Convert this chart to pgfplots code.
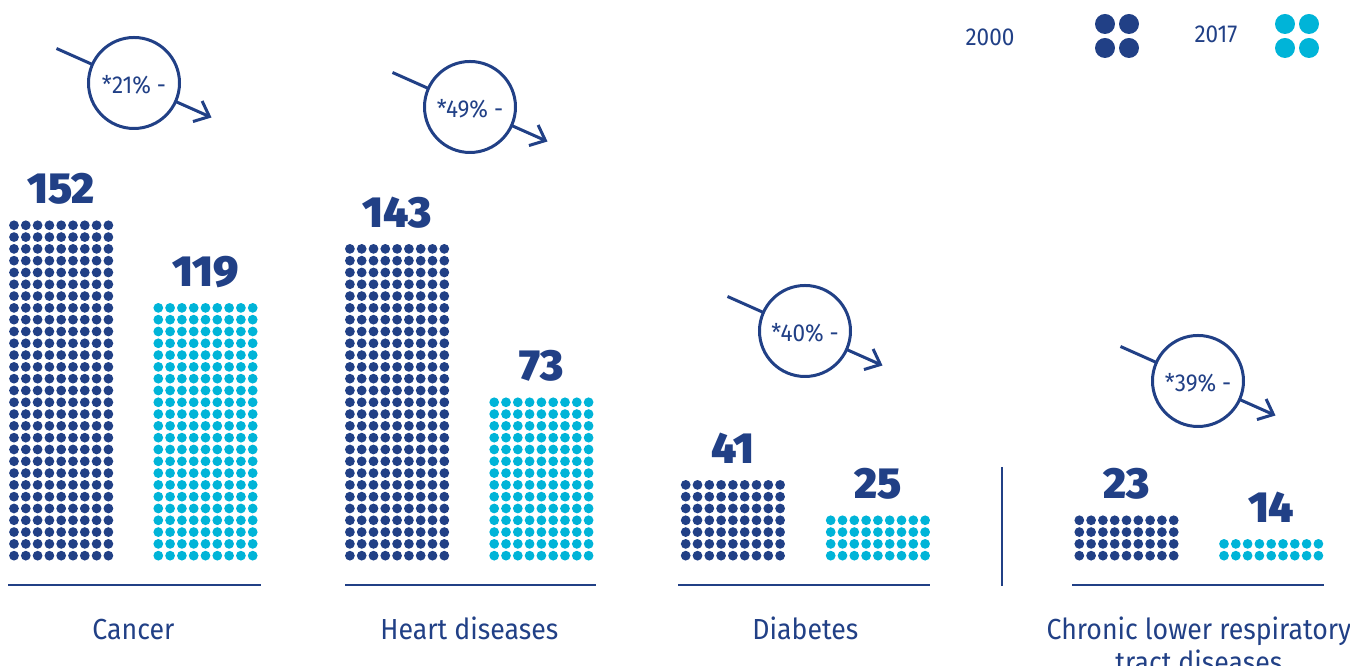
\documentclass[border=0pt]{standalone}
\usepackage{pgfplots}
\pgfplotsset{compat=1.18}
\usepackage{fontspec}
\setmainfont{Fira Sans}[FakeStretch=0.92]
\newfontfamily\heavy{Fira Sans Black}
\usetikzlibrary{arrows.meta}
\definecolor{navy}{RGB}{33,64,134}
\definecolor{cyanb}{RGB}{0,180,216}

% a bar drawn as a grid of dots (9 columns, rows of 4.72pt) filling the bar
\newcommand\dotgrid[1]{%
  \pgfpointanchor{path picture bounding box}{south west}\pgfgetlastxy{\swx}{\swy}%
  \pgfpointanchor{path picture bounding box}{north east}\pgfgetlastxy{\nex}{\ney}%
  \ifdim\nex>\swx\relax
  \ifdim\ney>\swy\relax
  \ifdim\dimexpr\nex-\swx\relax>42pt\relax
  \ifdim\dimexpr\nex-\swx\relax<43pt\relax
  \pgfmathtruncatemacro\nr{floor((\ney-\swy)/4.72+0.001)}%
  \pgfmathsetmacro\ddx{(\nex-\swx)/9}%
  \pgfmathsetmacro\xo{\swx}%
  \pgfmathsetmacro\yo{\swy}%
  \ifnum\nr>0
  \pgfsetfillcolor{#1}%
  \foreach \cc in {0,...,8}{\foreach \rr in {1,...,\nr}{%
    \pgfmathsetmacro\ppx{\xo+\ddx*(\cc+0.5)}%
    \pgfmathsetmacro\ppy{\yo+4.72*(\rr-0.5)}%
    \pgfpathcircle{\pgfpoint{\ppx pt}{\ppy pt}}{1.95pt}%
    \pgfusepath{fill}%
  }}%
  \fi
  \fi\fi\fi\fi
}
\tikzset{dotbar/.style={draw=none, fill=none, path picture={\dotgrid{#1}}}}

\newcommand\ann[3]{%
  \draw[navy, line width=1.2pt, -{Straight Barb[length=5.2pt,width=9pt]}] (#1-77.5,#2-34.5) -- (#1+77.5,#2+34.5);
  \draw[navy, line width=1.2pt, fill=white] (#1,#2) circle[radius=18.2pt];
  \node[text=navy, font=\fontsize{9.8}{12}\selectfont, inner sep=0pt] at (#1,#2+2) {#3};
}

\begin{document}
\begin{tikzpicture}
\begin{axis}[
  at={(0,0)}, anchor=south west,
  x=0.4pt, y=0.907692pt, scale only axis,
  xmin=0, xmax=1350, ymin=-46.01, ymax=247.51,
  axis line style={draw=none}, tick style={draw=none},
  ytick=\empty,
  xtick={133.4,469.3,805.4,1198.9},
  xticklabels={Cancer,Heart diseases,Diabetes,{\begin{tabular}[t]{@{}c@{}}Chronic lower respiratory\\tract diseases\end{tabular}}},
  xticklabel style={font=\fontsize{11.6}{12.8}\selectfont, text=navy, anchor=base, yshift=10.4pt},
  clip=false,
]
% 2000
\addplot[ybar, bar shift=0pt, bar width=42.48pt, dotbar=navy] coordinates {(61.2,152)};
\addplot[ybar, bar shift=0pt, bar width=42.48pt, dotbar=navy] coordinates {(397.1,143)};
\addplot[ybar, bar shift=0pt, bar width=42.48pt, dotbar=navy] coordinates {(732.9,41)};
\addplot[ybar, bar shift=0pt, bar width=42.48pt, dotbar=navy] coordinates {(1126.5,23)};
% 2017
\addplot[ybar, bar shift=0pt, bar width=42.48pt, dotbar=cyanb] coordinates {(205.5,119)};
\addplot[ybar, bar shift=0pt, bar width=42.48pt, dotbar=cyanb] coordinates {(541.4,73)};
\addplot[ybar, bar shift=0pt, bar width=42.48pt, dotbar=cyanb] coordinates {(877.9,25)};
\addplot[ybar, bar shift=0pt, bar width=42.48pt, dotbar=cyanb] coordinates {(1271.2,14)};
% value labels above the dot grids
\addplot[draw=none, mark=none,
  visualization depends on={rawy \as \rawy},
  nodes near coords={\pgfmathtruncatemacro\vv{round(\rawy)}\pgfmathtruncatemacro\nrw{floor(\rawy/5.2)}\pgfmathsetmacro\sh{(\nrw*11.8+15.5-\rawy*2.26923)*0.4}\raisebox{\sh pt}{\heavy\vv}},
  every node near coord/.append style={anchor=base, inner sep=0pt, text=navy, font=\fontsize{17.4}{20}\selectfont},
] coordinates {(61.2,152) (397.1,143) (732.9,41) (1126.5,23) (205.5,119) (541.4,73) (877.9,25) (1271.2,14)};
\end{axis}

\begin{scope}[x=0.4pt, y=-0.4pt, shift={(0pt,266.4pt)}]
  \draw[navy, line width=1.1pt] (8,585) -- (261,585);
  \draw[navy, line width=1.1pt] (345,585) -- (596,585);
  \draw[navy, line width=1.1pt] (678,585) -- (930,585);
  \draw[navy, line width=1.1pt] (1072,585) -- (1324,585);
  \draw[navy, line width=1.1pt] (1002,467) -- (1002,586);
  \ann{134}{83}{*21\% -}
  \ann{470}{107}{*49\% -}
  \ann{805}{331}{*40\% -}
  \ann{1198}{381}{*39\% -}
  % legend
  \node[text=navy, font=\fontsize{9.8}{12}\selectfont] at (990,37) {2000};
  \node[text=navy, font=\fontsize{9.8}{12}\selectfont] at (1216,34) {2017};
  \foreach \lx/\ly in {1105/24,1129/24,1105/48,1129/48} \fill[navy] (\lx,\ly) circle[radius=4pt];
  \foreach \lx/\ly in {1285/24,1309/24,1285/48,1309/48} \fill[cyanb] (\lx,\ly) circle[radius=4pt];
\end{scope}
\pgfresetboundingbox
\path[use as bounding box] (0,0) rectangle (540pt,266.4pt);
\end{tikzpicture}
\end{document}
